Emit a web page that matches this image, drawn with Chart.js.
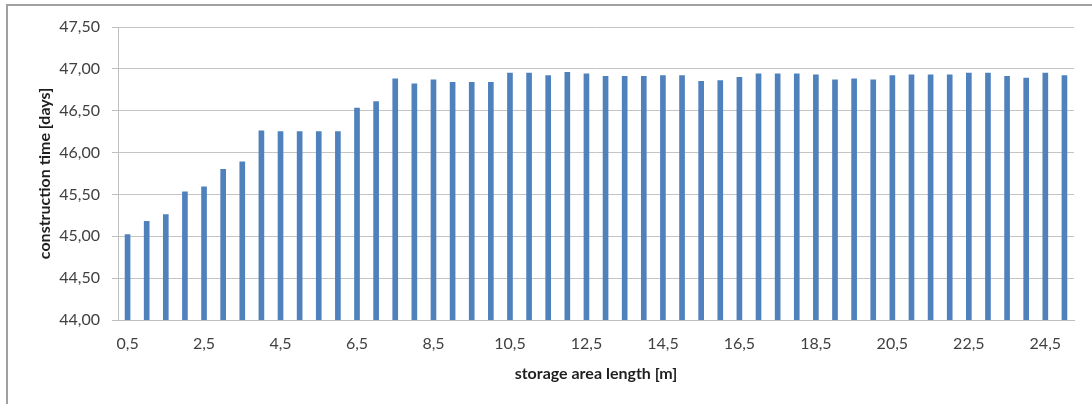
<!DOCTYPE html>
<html>
<head>
<meta charset="utf-8">
<script src="https://cdn.jsdelivr.net/npm/chart.js@4.4.0/dist/chart.umd.min.js"></script>
<style>
  html, body { margin: 0; padding: 0; background: #ffffff; }
  #wrap { position: relative; width: 1092px; height: 404px; }
</style>
</head>
<body>
<div id="wrap"><canvas id="c" width="1092" height="404"></canvas></div>
<script>
// storage area length [m]
const categories = [
  "0,5","1","1,5","2","2,5","3","3,5","4","4,5","5",
  "5,5","6","6,5","7","7,5","8","8,5","9","9,5","10",
  "10,5","11","11,5","12","12,5","13","13,5","14","14,5","15",
  "15,5","16","16,5","17","17,5","18","18,5","19","19,5","20",
  "20,5","21","21,5","22","22,5","23","23,5","24","24,5","25"
];
// construction time [days]
const constructionTime = [
  45.02, 45.18, 45.26, 45.53, 45.59, 45.80, 45.89, 46.26, 46.25, 46.25,
  46.25, 46.25, 46.53, 46.61, 46.88, 46.82, 46.87, 46.84, 46.84, 46.84,
  46.95, 46.95, 46.92, 46.96, 46.94, 46.91, 46.91, 46.91, 46.92, 46.92,
  46.85, 46.86, 46.90, 46.94, 46.94, 46.94, 46.93, 46.87, 46.88, 46.87,
  46.92, 46.93, 46.93, 46.93, 46.95, 46.95, 46.91, 46.89, 46.95, 46.92
];
const xTickLabels = ["0,5","2,5","4,5","6,5","8,5","10,5","12,5","14,5","16,5","18,5","20,5","22,5","24,5"];
const yTickLabels = ["44,00","44,50","45,00","45,50","46,00","46,50","47,00","47,50"];
const yMin = 44, yMax = 47.5, yStep = 0.5;

const framePlugin = {
  id: 'frame',
  beforeDraw(chart) {
    const ctx = chart.ctx;
    ctx.save();
    ctx.strokeStyle = '#a0a0a0';
    ctx.lineWidth = 2;
    ctx.beginPath();
    ctx.moveTo(7, 404);
    ctx.lineTo(7, 5);
    ctx.lineTo(1092, 5);
    ctx.stroke();
    ctx.restore();
  }
};

const tickFont = { family: 'Lato, "Open Sans", sans-serif', size: 16 };
const titleFont = { family: 'Lato, "Open Sans", sans-serif', size: 16, weight: 'bold' };

new Chart(document.getElementById('c'), {
  type: 'bar',
  data: {
    labels: categories,
    datasets: [{
      data: constructionTime,
      backgroundColor: '#4f81bd',
      borderWidth: 0,
      barThickness: 5
    }]
  },
  options: {
    responsive: false,
    devicePixelRatio: 1,
    animation: false,
    layout: { padding: { left: 0, right: 18, top: 27, bottom: 0 } },
    plugins: { legend: { display: false }, tooltip: { enabled: false } },
    scales: {
      x: {
        grid: { display: false, drawTicks: false },
        border: { display: true, color: '#bfbfbf', width: 1 },
        ticks: {
          autoSkip: false,
          maxRotation: 0,
          minRotation: 0,
          padding: 14,
          color: '#404040',
          font: tickFont,
          callback: function(value, index) {
            const lbl = categories[index];
            return xTickLabels.includes(lbl) ? lbl : '';
          }
        },
        title: {
          display: true,
          text: 'storage area length [m]',
          color: '#1f1f1f',
          font: titleFont,
          padding: { top: 0, bottom: 21 }
        },
        afterFit(scale) { scale.height = 84; }
      },
      y: {
        min: yMin,
        max: yMax,
        grid: { color: '#c4c4c4', lineWidth: 1, drawTicks: true, tickLength: 6, tickColor: '#bfbfbf' },
        border: { display: true, color: '#bfbfbf', width: 1 },
        ticks: {
          stepSize: yStep,
          padding: 12,
          color: '#404040',
          font: tickFont,
          callback: function(value) {
            const i = Math.round((value - yMin) / yStep);
            return yTickLabels[i];
          }
        },
        title: {
          display: true,
          text: 'construction time [days]',
          color: '#1f1f1f',
          font: titleFont,
          padding: { top: 35, bottom: 0 }
        },
        afterFit(scale) { scale.width = 118; }
      }
    }
  },
  plugins: [framePlugin]
});
</script>
</body>
</html>
